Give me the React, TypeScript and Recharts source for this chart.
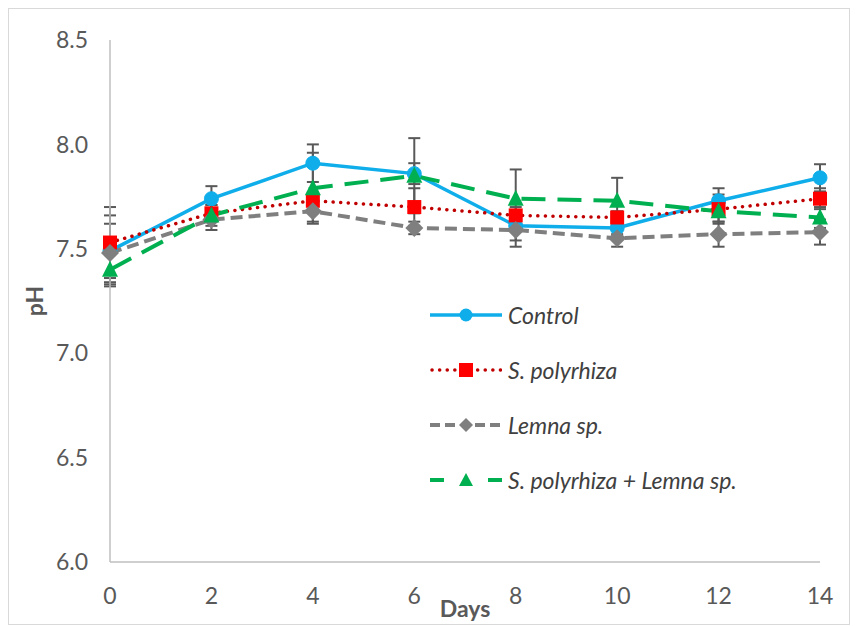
import React from 'react';
import { LineChart, Line, XAxis, YAxis, ErrorBar, Legend } from 'recharts';

const days = [0, 2, 4, 6, 8, 10, 12, 14];
const control = [7.49, 7.74, 7.91, 7.86, 7.61, 7.6, 7.73, 7.84];
const spolyrhiza = [7.53, 7.67, 7.73, 7.7, 7.66, 7.65, 7.69, 7.74];
const lemna = [7.48, 7.64, 7.68, 7.6, 7.59, 7.55, 7.57, 7.58];
const combo = [7.4, 7.66, 7.79, 7.85, 7.74, 7.73, 7.68, 7.65];

const controlErr = [0.17, 0.06, 0.09, 0.05, 0.07, 0.03, 0.06, 0.065];
const spolyrhizaErr = [0.17, 0.04, 0.04, 0.09, 0.04, 0.03, 0.07, 0.05];
const lemnaErr = [0.14, 0.05, 0.05, 0.03, 0.08, 0.04, 0.06, 0.06];
const comboErr = [0.07, 0.05, 0.17, 0.18, 0.14, 0.11, 0.05, 0.05];

const yTicks = [6.0, 6.5, 7.0, 7.5, 8.0, 8.5];

const seriesNames = ['Control', 'S. polyrhiza', 'Lemna sp.', 'S. polyrhiza + Lemna sp.'];

const data = days.map((d, i) => ({
  day: d,
  control: control[i],
  spolyrhiza: spolyrhiza[i],
  lemna: lemna[i],
  combo: combo[i],
  controlErr: controlErr[i],
  spolyrhizaErr: spolyrhizaErr[i],
  lemnaErr: lemnaErr[i],
  comboErr: comboErr[i],
}));

const BLUE = '#0FAEEA';
const RED = '#FF0000';
const DARKRED = '#C00000';
const GRAY = '#7F7F7F';
const GREEN = '#00B050';
const ERR = '#595959';
const FONT = 'Lato, "Open Sans", sans-serif';
const FS = 23;

const CircleDot = (p: any) => {
  if (p.cx == null || p.cy == null) return null;
  return <circle cx={p.cx} cy={p.cy} r={7} fill={BLUE} stroke={BLUE} strokeWidth={1} />;
};
const SquareDot = (p: any) => {
  if (p.cx == null || p.cy == null) return null;
  return <rect x={p.cx - 7} y={p.cy - 7} width={14} height={14} fill={RED} />;
};
const DiamondDot = (p: any) => {
  if (p.cx == null || p.cy == null) return null;
  const s = 9;
  return (
    <polygon
      points={`${p.cx},${p.cy - s} ${p.cx + s},${p.cy} ${p.cx},${p.cy + s} ${p.cx - s},${p.cy}`}
      fill={GRAY}
    />
  );
};
const TriangleDot = (p: any) => {
  if (p.cx == null || p.cy == null) return null;
  return (
    <polygon
      points={`${p.cx},${p.cy - 9} ${p.cx + 8},${p.cy + 7} ${p.cx - 8},${p.cy + 7}`}
      fill={GREEN}
    />
  );
};

const LegendContent = () => {
  const w = 72;
  const m = w / 2;
  const rows = [
    (
      <g>
        <line x1={0} y1={10} x2={w} y2={10} stroke={BLUE} strokeWidth={3.5} />
        <circle cx={m} cy={10} r={6.5} fill={BLUE} />
      </g>
    ),
    (
      <g>
        <line x1={2} y1={10} x2={w} y2={10} stroke={DARKRED} strokeWidth={3.5} strokeDasharray="0.1 7.5" strokeLinecap="round" />
        <rect x={m - 7} y={3} width={14} height={14} fill={RED} />
      </g>
    ),
    (
      <g>
        <line x1={0} y1={10} x2={w} y2={10} stroke={GRAY} strokeWidth={4} strokeDasharray="10 5" />
        <rect x={m - 8} y={2} width={16} height={16} fill="#fff" />
        <polygon points={`${m},${3} ${m + 7},${10} ${m},${17} ${m - 7},${10}`} fill={GRAY} />
      </g>
    ),
    (
      <g>
        <line x1={0} y1={10} x2={w} y2={10} stroke={GREEN} strokeWidth={4} strokeDasharray="14 44" />
        <polygon points={`${m},${3} ${m + 7},${16} ${m - 7},${16}`} fill={GREEN} />
      </g>
    ),
  ];
  return (
    <div style={{ fontFamily: FONT }}>
      {seriesNames.map((n, i) => (
        <div key={n} style={{ display: 'flex', alignItems: 'center', height: 55 }}>
          <svg width={w} height={20} style={{ marginRight: 6 }}>
            {rows[i]}
          </svg>
          <span style={{ fontStyle: 'italic', fontSize: FS, color: '#404040', whiteSpace: 'nowrap' }}>{n}</span>
        </div>
      ))}
    </div>
  );
};

export default function App() {
  return (
    <div style={{ width: 840, height: 615, border: '1px solid #D9D9D9', background: '#fff' }}>
      <LineChart
        width={840}
        height={615}
        data={data}
        margin={{ top: 31, right: 29, left: 41, bottom: 22 }}
      >
        <XAxis
          dataKey="day"
          type="category"
          axisLine={{ stroke: '#BFBFBF', strokeWidth: 1.5 }}
          tickLine={false}
          tickSize={0}
          tickMargin={26}
          height={40}
          tick={{ fill: '#595959', fontSize: FS, fontFamily: FONT }}
          label={{
            value: 'Days',
            position: 'bottom',
            offset: -1,
            style: { fill: '#595959', fontSize: FS, fontWeight: 'bold', fontFamily: FONT },
          }}
        />
        <YAxis
          domain={[6, 8.5]}
          ticks={yTicks}
          interval={0}
          width={60}
          axisLine={{ stroke: '#BFBFBF', strokeWidth: 1.5 }}
          tickLine={false}
          tickSize={0}
          tickMargin={22}
          tickFormatter={(v: number) => v.toFixed(1)}
          tick={{ fill: '#595959', fontSize: FS, fontFamily: FONT }}
          label={{
            value: 'pH',
            angle: -90,
            position: 'insideLeft',
            offset: -15,
            style: { textAnchor: 'middle', fill: '#595959', fontSize: FS, fontWeight: 'bold', fontFamily: FONT },
          }}
        />
        <Legend
          layout="vertical"
          align="center"
          verticalAlign="middle"
          wrapperStyle={{ left: 421, top: 278, width: 380 }}
          content={<LegendContent />}
        />
        <Line
          dataKey="control"
          name={seriesNames[0]}
          stroke={BLUE}
          strokeWidth={3.5}
          dot={<CircleDot />}
          activeDot={false}
          isAnimationActive={false}
        >
          <ErrorBar dataKey="controlErr" direction="y" width={6} stroke={ERR} strokeWidth={2} />
        </Line>
        <Line
          dataKey="spolyrhiza"
          name={seriesNames[1]}
          stroke={DARKRED}
          strokeWidth={3.5}
          strokeDasharray="0.1 7.5"
          strokeLinecap="round"
          dot={<SquareDot />}
          activeDot={false}
          isAnimationActive={false}
        >
          <ErrorBar dataKey="spolyrhizaErr" direction="y" width={6} stroke={ERR} strokeWidth={2} />
        </Line>
        <Line
          dataKey="lemna"
          name={seriesNames[2]}
          stroke={GRAY}
          strokeWidth={4}
          strokeDasharray="12 6"
          dot={<DiamondDot />}
          activeDot={false}
          isAnimationActive={false}
        >
          <ErrorBar dataKey="lemnaErr" direction="y" width={6} stroke={ERR} strokeWidth={2} />
        </Line>
        <Line
          dataKey="combo"
          name={seriesNames[3]}
          stroke={GREEN}
          strokeWidth={4}
          strokeDasharray="24 12"
          dot={<TriangleDot />}
          activeDot={false}
          isAnimationActive={false}
        >
          <ErrorBar dataKey="comboErr" direction="y" width={6} stroke={ERR} strokeWidth={2} />
        </Line>
      </LineChart>
    </div>
  );
}
